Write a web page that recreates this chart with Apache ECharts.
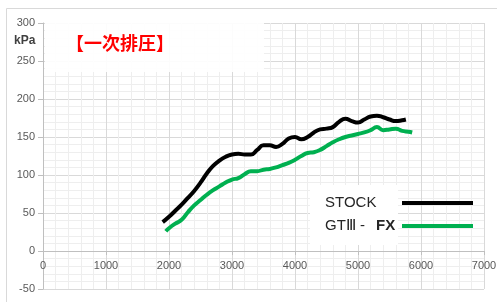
<!DOCTYPE html>
<html>
<head>
    <meta charset="utf-8"/>
    <style type="text/css">
        body, html { margin: 0; width: 100%; height: 100%; background: #fff; }
        #chart { width: 497px; height: 302px; }
    </style>
    <script src="https://cdn.jsdelivr.net/npm/echarts@6/dist/echarts.min.js"></script>
</head>
<body>
<div id="chart"></div>
<script type="text/javascript">
    // rpm / kPa
    var stockRpm = [1900, 2000, 2100, 2200, 2300, 2400, 2500, 2600, 2700, 2800, 2900, 3000, 3100, 3200, 3300, 3400, 3500, 3600, 3700, 3800,
        3900, 4000, 4100, 4200, 4300, 4400, 4500, 4600, 4700, 4800, 4900, 5000, 5100, 5200, 5300, 5400, 5500, 5600, 5700, 5760];
    var stockKpa = [38, 45, 53, 61, 70, 79, 90, 102, 112, 119, 124, 127, 128, 127, 127, 133, 139, 139, 137, 141,
        148, 150, 147, 150, 156, 160, 161, 163, 170, 174, 171, 169, 173, 177, 178, 176, 173, 171, 172, 173];
    var fxRpm = [1950, 2000, 2100, 2200, 2300, 2400, 2500, 2600, 2700, 2800, 2900, 3000, 3100, 3200, 3300, 3400, 3500, 3600, 3700, 3800,
        3900, 4000, 4100, 4200, 4300, 4400, 4500, 4600, 4700, 4800, 4900, 5000, 5100, 5200, 5300, 5400, 5500, 5600, 5700, 5800, 5860];
    var fxKpa = [26, 30, 36, 41, 51, 60, 67, 74, 80, 85, 90, 94, 96, 101, 105, 105, 107, 108, 110, 113,
        116, 120, 125, 129, 130, 133, 138, 143, 147, 150, 152, 154, 156, 159, 163, 159, 160, 161, 158, 157, 156];
    var seriesNames = ['STOCK', 'GTⅢ-FX'];

    function pairs(xs, ys) {
        var out = [];
        for (var i = 0; i < xs.length; i++) out.push([xs[i], ys[i]]);
        return out;
    }

    var myChart = echarts.init(document.getElementById('chart'));
    var option = {
        animation: false,
        textStyle: {fontFamily: 'Liberation Sans'},
        grid: {left: 43, right: 13, top: 23, bottom: 13, outerBoundsMode: 'none', containLabel: false},
        xAxis: {
            type: 'value', min: 0, max: 7000, interval: 1000,
            offset: -38, // x axis sits on the 0 kPa line
            axisLine: {onZero: false, lineStyle: {color: '#bfbfbf'}},
            axisTick: {show: true, length: 4, lineStyle: {color: '#bfbfbf'}},
            axisLabel: {color: '#595959', fontSize: 11, margin: 9, formatter: function (v) { return String(v); }},
            splitLine: {show: true, lineStyle: {color: '#d9d9d9'}},
            minorTick: {show: false, splitNumber: 5},
            minorSplitLine: {show: true, lineStyle: {color: '#eeeeee'}}
        },
        yAxis: {
            type: 'value', min: -50, max: 300, interval: 50,
            axisLine: {show: true, onZero: false, lineStyle: {color: '#bfbfbf'}},
            axisTick: {show: true, length: 5, lineStyle: {color: '#bfbfbf'}},
            axisLabel: {color: '#595959', fontSize: 11, margin: 8},
            splitLine: {show: true, lineStyle: {color: '#d9d9d9'}},
            minorTick: {show: false, splitNumber: 5},
            minorSplitLine: {show: true, lineStyle: {color: '#eeeeee'}}
        },
        legend: {
            orient: 'vertical', left: 320, top: 188, itemGap: 3, z: 10,
            align: 'right', icon: 'rect', itemWidth: 71, itemHeight: 4,
            data: seriesNames,
            formatter: function (name) {
                if (name === 'GTⅢ-FX') return '{g|GTⅢ -}{b|FX}';
                return '{s|' + name + '}';
            },
            textStyle: {
                lineHeight: 20,
                rich: {
                    s: {width: 72, align: 'left', fontSize: 15, color: '#262626', fontFamily: 'Liberation Sans'},
                    g: {width: 51, align: 'left', fontSize: 15, color: '#262626', fontFamily: 'Liberation Sans'},
                    b: {width: 21, align: 'left', fontSize: 15, color: '#262626', fontWeight: 'bold', fontFamily: 'Liberation Sans'}
                }
            }
        },
        graphic: [
            {type: 'rect', left: 4, top: 6, shape: {width: 500, height: 300}, style: {fill: 'none', stroke: '#d9d9d9', lineWidth: 1}, z: 0},
            {type: 'rect', left: 45, top: 22, shape: {width: 219, height: 50}, style: {fill: 'rgba(255,255,255,0.92)'}, z: 1},
            {type: 'rect', left: 310, top: 185, shape: {width: 88, height: 60}, style: {fill: '#ffffff'}, z: 1},
            {type: 'text', left: 14, top: 35, style: {text: 'kPa', fontSize: 12, fontWeight: 'bold', fill: '#404040', fontFamily: 'Liberation Sans'}, z: 6},
            {type: 'text', left: 66, top: 34, style: {text: '【一次排圧】', fontSize: 18, fontWeight: 'bold', fill: '#ff0000', fontFamily: 'Noto Sans CJK JP'}, z: 6}
        ],
        series: [
            {
                name: seriesNames[0], type: 'line', data: pairs(stockRpm, stockKpa),
                smooth: true, showSymbol: false, color: '#000000',
                lineStyle: {width: 4, color: '#000000'}, z: 3
            },
            {
                name: seriesNames[1], type: 'line', data: pairs(fxRpm, fxKpa),
                smooth: true, showSymbol: false, color: '#00b050',
                lineStyle: {width: 4, color: '#00b050'}, z: 3
            }
        ]
    };
    myChart.setOption(option);
</script>
</body>
</html>
